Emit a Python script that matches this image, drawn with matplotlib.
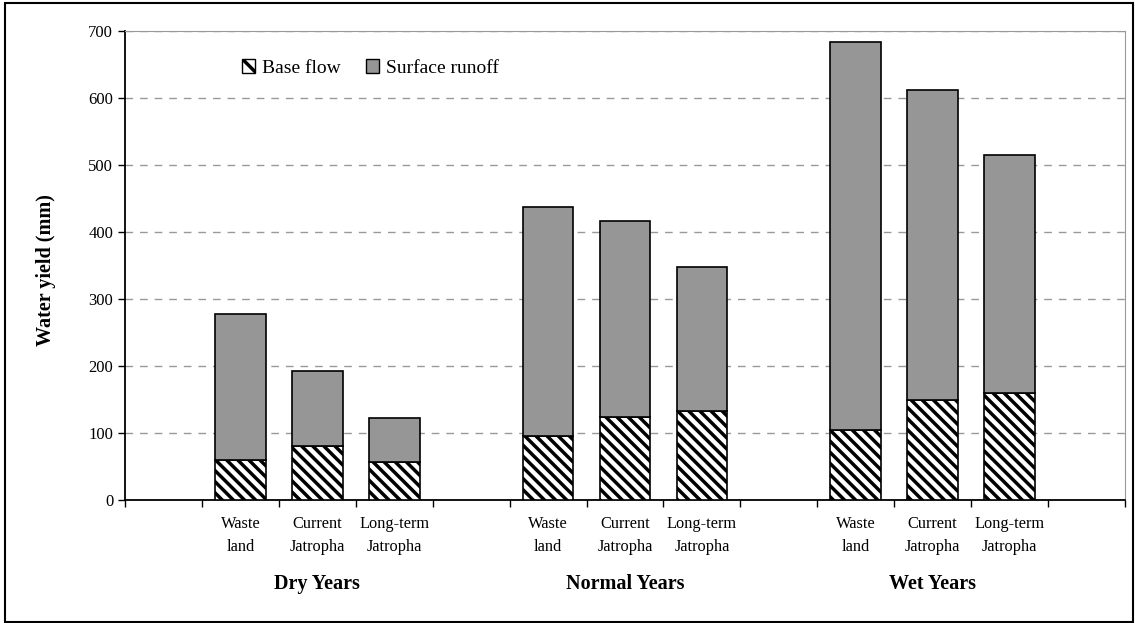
import matplotlib
matplotlib.use("Agg")
import matplotlib.pyplot as plt
from matplotlib.patches import Rectangle, Patch

plt.rcParams['font.family'] = ['Liberation Serif', 'DejaVu Serif']
plt.rcParams['hatch.linewidth'] = 2.5

categories = ['', 'Waste\nland', 'Current\nJatropha', 'Long-term\nJatropha', '',
              'Waste\nland', 'Current\nJatropha', 'Long-term\nJatropha', '',
              'Waste\nland', 'Current\nJatropha', 'Long-term\nJatropha', '']
groups = ['Dry Years', 'Normal Years', 'Wet Years']
base_flow = [None, 59, 81, 56, None, 96, 124, 133, None, 105, 149, 160, None]
total_yield = [None, 277, 192, 122, None, 437, 416, 348, None, 684, 612, 515, None]
yticks = [0, 100, 200, 300, 400, 500, 600, 700]

fig = plt.figure(figsize=(11.35, 6.23), dpi=100)
ax = fig.add_axes([125/1135, 1-500/623, 1000/1135, 469/623])

xs = list(range(len(categories)))
bx = [x for x, b in zip(xs, base_flow) if b is not None]
bv = [b for b in base_flow if b is not None]
sv = [t - b for t, b in zip(total_yield, base_flow) if b is not None]

ax.bar(bx, bv, width=0.66, color='white', edgecolor='black', hatch='\\\\\\', linewidth=1.2, zorder=3)
ax.bar(bx, sv, bottom=bv, width=0.66, color='#969696', edgecolor='black', linewidth=1.2, zorder=3)

ax.set_xlim(-0.5, len(categories) - 0.5)
ax.set_ylim(0, 700)
ax.set_yticks(yticks)
ax.set_yticklabels([str(v) for v in yticks], fontsize=12)
ax.yaxis.grid(True, linestyle=(0, (5.5, 5)), color='#999999', linewidth=1.0, zorder=0)
ax.set_axisbelow(True)

ax.set_xticks([x - 0.5 for x in xs] + [len(categories) - 0.5])
ax.set_xticklabels([])
ax.tick_params(axis='both', direction='out', length=5, width=1.0, colors='black')
for x, lab in zip(xs, categories):
    if lab:
        ax.text(x, -24, lab, ha='center', va='top', fontsize=11.8, linespacing=1.6)
group_centers = [2, 6, 10]
for gc, g in zip(group_centers, groups):
    ax.text(gc, -125, g, ha='center', va='center', fontsize=14.5, fontweight='bold')

ax.spines['left'].set_color('black')
ax.spines['bottom'].set_color('black')
ax.spines['left'].set_linewidth(1.3)
ax.spines['bottom'].set_linewidth(1.3)
ax.spines['top'].set_color('#999999')
ax.spines['right'].set_color('#999999')

ax.set_ylabel('Water yield (mm)', fontsize=14.5, fontweight='bold')
ax.yaxis.set_label_coords(-0.069, 0.49)

handles = [Patch(facecolor='white', edgecolor='black', hatch='\\\\', linewidth=1.0),
           Patch(facecolor='#969696', edgecolor='black', linewidth=1.0)]
ax.legend(handles, ['Base flow', 'Surface runoff'], loc='center left',
          bbox_to_anchor=(0.117, 0.921), ncol=2, frameon=False, fontsize=14,
          handlelength=0.67, handleheight=0.67, handletextpad=0.36, columnspacing=1.3,
          borderaxespad=0, borderpad=0)

fig.patches.append(Rectangle((5/1135, 1/623), 1128/1135, 619/623, transform=fig.transFigure,
                             fill=False, edgecolor='black', linewidth=1.5))

fig.savefig('out.png', dpi=100)
